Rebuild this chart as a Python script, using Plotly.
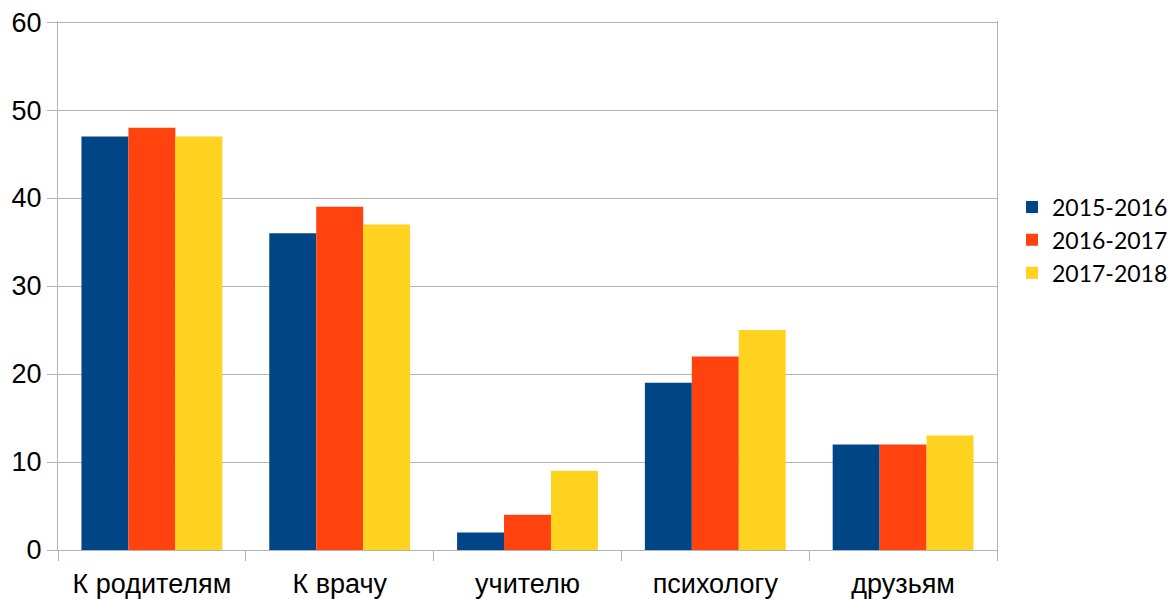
import plotly.graph_objects as go

categories = ["К родителям", "К врачу", "учителю", "психологу", "друзьям"]
series_names = ["2015-2016", "2016-2017", "2017-2018"]
values_2015 = [47, 36, 2, 19, 12]
values_2016 = [48, 39, 4, 22, 12]
values_2017 = [47, 37, 9, 25, 13]
colors = ["#004586", "#ff420e", "#ffd320"]
y_ticks = [0, 10, 20, 30, 40, 50, 60]

fig = go.Figure()
for name, vals, col in zip(series_names, [values_2015, values_2016, values_2017], colors):
    fig.add_trace(go.Bar(x=categories, y=vals, name=name, marker=dict(color=col, line=dict(width=0))))

grid = "#b3b3b3"
W, H = 1167, 591
fig.update_layout(
    width=W, height=H,
    margin=dict(l=50, r=178, t=13, b=49, autoexpand=False),
    paper_bgcolor="white", plot_bgcolor="white",
    barmode="group", bargap=0.25, bargroupgap=0,
    legend=dict(x=1004 / W, xref="container", xanchor="left",
                y=1 - 232 / H, yref="container", yanchor="middle",
                font=dict(family="Lato", size=23, color="#000000"),
                tracegroupgap=0, itemwidth=30),
    xaxis=dict(showline=True, linecolor=grid, linewidth=1, automargin=False,
               ticks="outside", tickson="boundaries", ticklen=10, tickcolor=grid,
               ticklabelstandoff=10, ticklabeloverflow="allow",
               tickfont=dict(family="Liberation Sans", size=27, color="#000000"),
               showgrid=False),
    yaxis=dict(range=[0, 60.12], tickvals=y_ticks, showline=True, linecolor=grid, linewidth=1,
               mirror=True, ticks="outside", ticklen=10, tickcolor=grid, automargin=False,
               ticklabeloverflow="allow",
               showgrid=True, gridcolor=grid, gridwidth=1, zeroline=False,
               tickfont=dict(family="Liberation Sans", size=27, color="#000000")),
)
fig.write_html("out.html")
